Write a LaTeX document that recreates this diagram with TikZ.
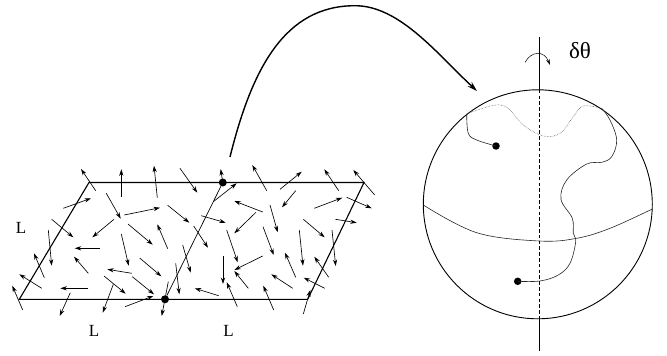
\documentclass[tikz,border=0pt]{standalone}
\usepackage{fontspec}
\setmainfont{Liberation Serif}
\usetikzlibrary{arrows.meta}
\usetikzlibrary{positioning}
\tikzstyle{frame} = [line width=1.1pt, draw=black]
\tikzstyle{fieldarrow} = [line width=0.65pt, -{Stealth[length=6.5pt,width=4.2pt]}]
\tikzstyle{spot} = [circle, fill=black, inner sep=0pt, minimum size=8pt]
\tikzstyle{size} = [font=\fontsize{17}{19}\selectfont, inner sep=0pt]
\tikzstyle{path} = [line width=0.6pt, draw=black!85]
\begin{document}
\begin{tikzpicture}[x=1pt,y=-1pt]
        \useasboundingbox (0,0) rectangle (667,356);

        % the lattice
        \coordinate (tl) at (89,182.5);
        \coordinate (tr) at (364,182.5);
        \coordinate (bl) at (19.3,299.3);
        \coordinate (br) at (307.7,299.3);
        \node (upper) [spot] at (222.8,182.5) {};
        \node (lower) [spot] at (165,299.3) {};
        \draw [frame] (tl) -- (tr) -- (br) -- (bl) -- cycle;
        \draw [line width=0.7pt] (upper) -- (lower);

        \node (l1) [size] at (21,228) {L};
        \node (l2) [size] at (94,331) {L};
        \node (l3) [size] at (228.5,331) {L};

        % the spins
        \foreach \xa/\ya/\xb/\yb in {
                95.7/190.7/81/169, 121.3/197.3/121.3/169.3, 157.3/197.7/154/165.7,
                180/168.3/197.3/192.7, 63.3/208.3/91/198.3, 106.3/193.3/120.7/218.7,
                124.3/215/160/207.7, 167.7/205.3/189.3/222.7, 51.7/219.3/73.3/237.3,
                114/219.3/92.3/237.3, 128/224/152.7/244.7, 167.7/248.7/157.3/224.3,
                48.3/230/51.7/265.7, 100/248.3/74.7/248.3, 121.3/234/128.7/265.7,
                182.7/245/190.7/272.7, 44.3/277.7/34/253.3, 88.3/273.3/74/256.7,
                139.7/258/161.3/276.3, 41.7/288.3/19.3/274.3, 131.7/273.3/107.3/269.3,
                104/276/125.7/293.7, 132.3/276.7/154/294.3, 175.7/263.3/179.3/294.3,
                22.7/310/12.3/285.7, 88.3/288.3/60.3/288.3, 70.3/292.7/59.7/316,
                113.3/284.3/102.7/312.7, 125/306.7/153.3/296, 168.3/281.7/161.7/316,
                223.3/186/220.7/169, 213.3/201.7/236.7/183.3, 266.7/190.7/252.3/165,
                280/189.3/301.7/171.7, 338.7/190.7/324.3/169.3, 374.7/195/353.3/170,
                262.7/212/234.3/201, 295.7/190.7/282/207.3, 314.3/208.3/342.3/197.7,
                346.7/197.3/371.7/208.3, 201.3/215.7/225.7/222.7, 256/212.3/234.3/233.3,
                270/205/277.7/232.3, 303.3/219.3/324.7/237.3, 335.3/219.3/356.7/222.7,
                193.7/226/208/247.7, 226.7/230/237.7/262.3, 263/226.7/273.7/255,
                299.3/230/303/265.7, 332/230/335.7/266, 223/256/223/284,
                262.7/256/234.3/270, 295.7/277.3/285/252.7, 328.7/277.3/314.3/256.7,
                248.3/288.3/234.3/271, 292.7/288.3/271.3/274.3, 324.7/288.3/303.7/277.7,
                218.7/295.7/194.7/288.3, 237.3/306.7/226.7/282.3, 273.7/310/263.3/285.7,
                303.3/314/310.3/290}
                \draw [fieldarrow] (\xa,\ya) -- (\xb,\yb);

        % the sphere
        \node (sphere) [circle, draw=black, line width=0.9pt, inner sep=0pt,
                minimum size=229pt] at (537.8,204.3) {};
        \coordinate (axistop) at (539.3,37);
        \coordinate (axisbottom) at (539.3,351);
        \coordinate (north) at (539.3,89.8);
        \coordinate (south) at (539.3,318.8);
        \draw [line width=0.8pt] (axistop) -- (north);
        \draw [line width=0.8pt] (south) -- (axisbottom);
        \draw [line width=0.8pt, dash pattern=on 3.5pt off 2.3pt] (north) -- (south);

        \node (angle) [size, font=\fontsize{23}{25}\selectfont] at (580,51) {δθ};
        \coordinate (turnleft) at (525,62.5);
        \coordinate (turnright) at (550,65);
        \draw [line width=0.5pt, -{Stealth[length=6pt,width=3.5pt]}]
                (turnleft) .. controls (531,51) and (544,50) .. (turnright);

        % the equator
        \coordinate (eqleft) at (423.3,205);
        \coordinate (eqright) at (652.3,209);
        \draw [path] plot [smooth, tension=0.6] coordinates {(eqleft) (476.7,232.7)
                (539.3,241) (576.7,238.3) (610,228.3) (eqright)};

        % the walk on the sphere
        \node (start) [spot, minimum size=7.5pt] at (496,146) {};
        \node (end) [spot, minimum size=7.5pt] at (517.7,281.3) {};
        \draw [path] plot [smooth, tension=0.6] coordinates {(start) (476.7,140)
                (468.3,133.3) (466.7,114)};
        \draw [line width=0.5pt, densely dotted, draw=black!75] plot [smooth, tension=0.6]
                coordinates {(466.7,114) (491.7,105.7) (506.7,107.3) (523.3,125) (543.3,136)
                (560,133.3) (573.3,116.7) (583.3,106) (601.7,108.3)};
        \draw [path] plot [smooth, tension=0.6] coordinates {(601.7,108.3) (610,120)
                (616.7,140) (611.7,156.7) (601.7,162.3) (586.7,164) (566.7,180)
                (561,199.3) (572.3,218.3) (573.3,233.3) (575.7,241.7) (570,263.3)
                (558.3,275) (540,281) (end)};

        % the map from the lattice to the sphere
        \coordinate (from) at (230,157);
        \coordinate (to) at (477,91);
        \draw [line width=1.4pt, -{Stealth[length=10pt,width=6pt]}]
                (from) .. controls (252,68) and (285,5.7) .. (355,5.7)
                .. controls (400,5.7) and (438,55) .. (to);
\end{tikzpicture}
\end{document}
